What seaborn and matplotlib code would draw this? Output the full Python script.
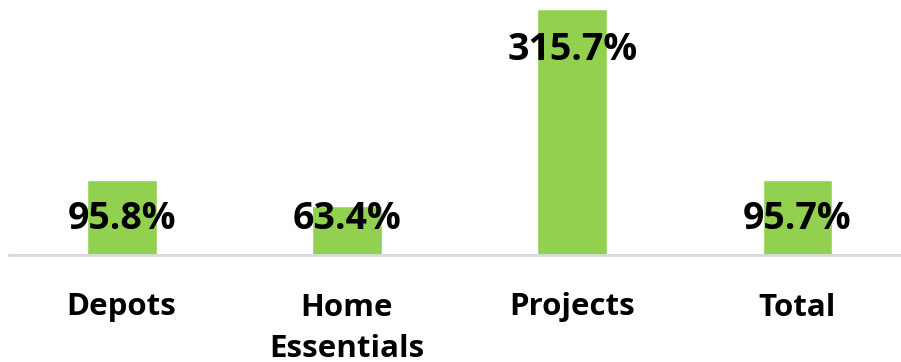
import matplotlib
matplotlib.use("Agg")
import matplotlib.pyplot as plt
import seaborn as sns
import pandas as pd

categories = ["Depots", "Home\nEssentials", "Projects", "Total"]
values = [95.8, 63.4, 315.7, 95.7]
value_labels = ["95.8%", "63.4%", "315.7%", "95.7%"]

sns.set_theme(style="white")
plt.rcParams["font.family"] = ["Open Sans", "DejaVu Sans"]

df = pd.DataFrame({"category": categories, "value": values})

fig = plt.figure(figsize=(9.01, 3.62), dpi=100)
ax = fig.add_axes([9 / 901, 1 - 255 / 362, 891 / 901, 255 / 362])
sns.barplot(data=df, x="category", y="value", color="#92D050", width=0.31,
            saturation=1, ax=ax)

ax.set_ylim(0, 327.4)
ax.set_xlim(-0.5, 3.455)

for i, (v, lab) in enumerate(zip(values, value_labels)):
    y = max(v - 52, 46)
    ax.text(i, y, lab, ha="center", va="center", fontsize=27,
            fontweight="bold", color="black")

for s in ["top", "right", "left"]:
    ax.spines[s].set_visible(False)
ax.spines["bottom"].set_color("#D9D9D9")
ax.spines["bottom"].set_linewidth(2)
ax.set_yticks([])
ax.set_xlabel("")
ax.set_ylabel("")
ax.tick_params(axis="x", length=0, pad=27)
for t in ax.get_xticklabels():
    t.set_fontsize(22.5)
    t.set_fontweight("bold")
    t.set_color("black")
    t.set_linespacing(1.5)

fig.savefig("out.png", dpi=100, facecolor="white")
